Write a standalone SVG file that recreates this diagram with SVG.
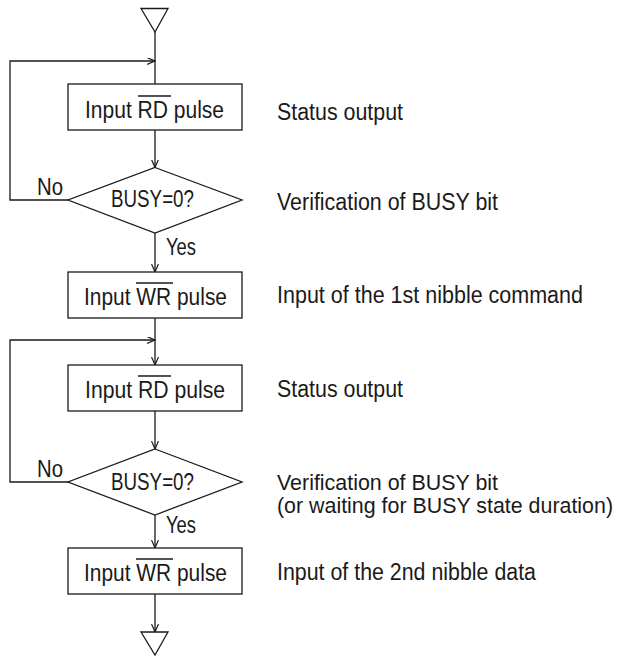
<svg xmlns="http://www.w3.org/2000/svg" width="618" height="656" viewBox="0 0 618 656">
<style>
.s{fill:#fff;stroke:#1a1a1a;stroke-width:1.3}
.c{fill:none;stroke:#1a1a1a;stroke-width:1.3}
.ol{stroke:#1a1a1a;stroke-width:1.3}
text{font-family:"Liberation Sans",Arial,sans-serif;font-size:23px;fill:#1a1a1a}
.n{font-size:22px}
</style>
<defs>
<marker id="a" markerUnits="userSpaceOnUse" markerWidth="10" markerHeight="8" refX="8" refY="3.5" orient="auto">
<path d="M0,0 L8,3.5 L0,7" fill="none" stroke="#1a1a1a" stroke-width="1.2"/>
</marker>
</defs>
<g id="connectors">
<path class="c" d="M155,32 V84"/>
<path class="c" d="M155,130 V167.5" marker-end="url(#a)"/>
<path class="c" d="M155,233 V272" marker-end="url(#a)"/>
<path class="c" d="M155,318 V365" marker-end="url(#a)"/>
<path class="c" d="M155,411 V449" marker-end="url(#a)"/>
<path class="c" d="M155,515 V548" marker-end="url(#a)"/>
<path class="c" d="M155,594 V632" marker-end="url(#a)"/>
<path class="c" d="M68,200 H10 V61 H155" marker-end="url(#a)"/>
<path class="c" d="M68,482 H10 V340 H155" marker-end="url(#a)"/>
<text x="37" y="195" textLength="26" lengthAdjust="spacingAndGlyphs">No</text>
<text x="166" y="255" textLength="30" lengthAdjust="spacingAndGlyphs">Yes</text>
<text x="37" y="477" textLength="26" lengthAdjust="spacingAndGlyphs">No</text>
<text x="166" y="533" textLength="30" lengthAdjust="spacingAndGlyphs">Yes</text>
</g>
<g id="start">
<polygon class="s" points="141,8.5 168,8.5 155,32"/>
</g>
<g id="rd1">
<rect class="s" x="68" y="84" width="174" height="46"/>
<text x="85" y="117.5" textLength="139" lengthAdjust="spacingAndGlyphs">Input RD pulse</text>
<line class="ol" x1="138" y1="96" x2="171" y2="96"/>
</g>
<g id="busy1">
<polygon class="s" points="155,167.5 242,200 155,233 68,200"/>
<text x="111" y="207" textLength="83" lengthAdjust="spacingAndGlyphs">BUSY=0?</text>
</g>
<g id="wr1">
<rect class="s" x="68" y="272" width="174" height="46"/>
<text x="84" y="304.5" textLength="143" lengthAdjust="spacingAndGlyphs">Input WR pulse</text>
<line class="ol" x1="136" y1="283" x2="173" y2="283"/>
</g>
<g id="rd2">
<rect class="s" x="68" y="365" width="174" height="46"/>
<text x="85" y="397.5" textLength="140" lengthAdjust="spacingAndGlyphs">Input RD pulse</text>
<line class="ol" x1="138" y1="376" x2="171" y2="376"/>
</g>
<g id="busy2">
<polygon class="s" points="155,449 242,482 155,515 68,482"/>
<text x="111" y="490" textLength="83" lengthAdjust="spacingAndGlyphs">BUSY=0?</text>
</g>
<g id="wr2">
<rect class="s" x="68" y="548" width="174" height="46"/>
<text x="84" y="580.5" textLength="143" lengthAdjust="spacingAndGlyphs">Input WR pulse</text>
<line class="ol" x1="136" y1="559" x2="173" y2="559"/>
</g>
<g id="end">
<polygon class="s" points="141,632 168,632 155,655"/>
</g>
<g id="notes">
<text x="277" y="120" textLength="126" lengthAdjust="spacingAndGlyphs">Status output</text>
<text x="277" y="210" textLength="221" lengthAdjust="spacingAndGlyphs">Verification of BUSY bit</text>
<text x="277" y="303" textLength="306" lengthAdjust="spacingAndGlyphs">Input of the 1st nibble command</text>
<text x="277" y="397" textLength="126" lengthAdjust="spacingAndGlyphs">Status output</text>
<text class="n" x="277" y="490" textLength="221" lengthAdjust="spacingAndGlyphs">Verification of BUSY bit</text>
<text class="n" x="277" y="513" textLength="336" lengthAdjust="spacingAndGlyphs">(or waiting for BUSY state duration)</text>
<text x="277" y="580" textLength="259" lengthAdjust="spacingAndGlyphs">Input of the 2nd nibble data</text>
</g>
</svg>
